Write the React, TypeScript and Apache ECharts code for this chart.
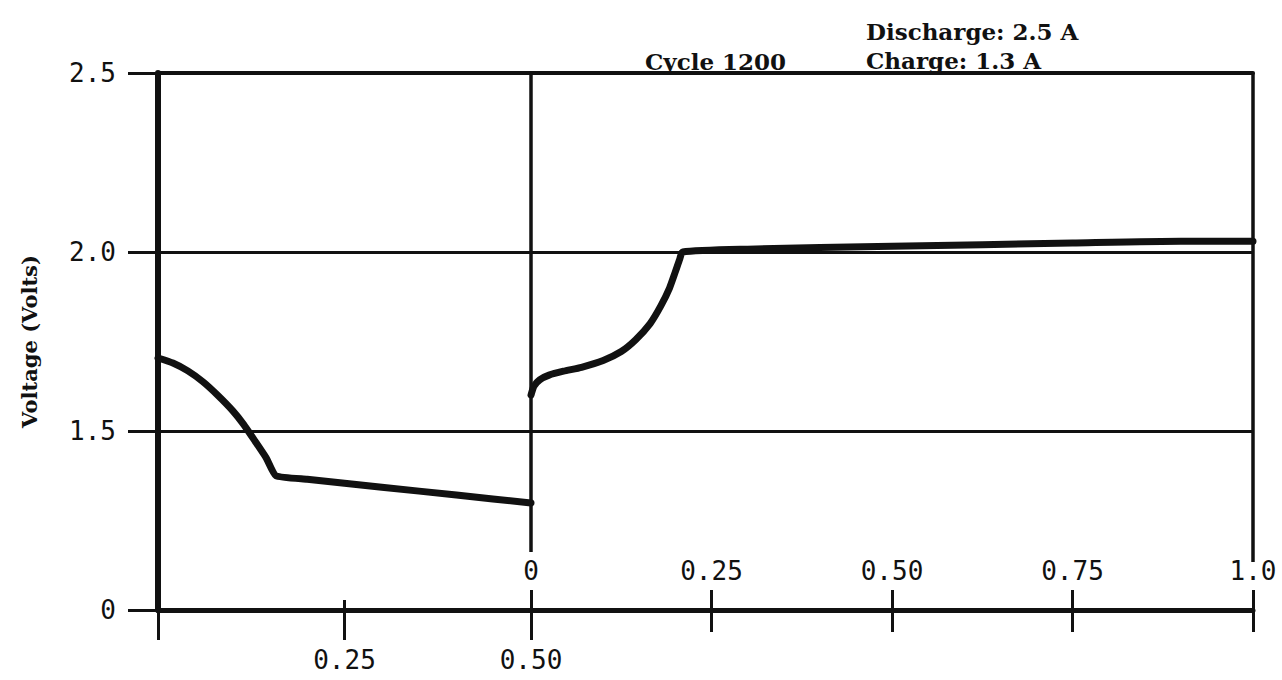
import React, { useEffect, useRef } from "react";
import * as echarts from "echarts";

// Discharge curve (time axis 0..0.5, lower scale)
const dischargeTime = [0, 0.02, 0.04, 0.06, 0.08, 0.1, 0.115, 0.13, 0.145, 0.158, 0.2, 0.3, 0.4, 0.5];
const dischargeVolts = [1.704, 1.69, 1.668, 1.638, 1.6, 1.557, 1.518, 1.472, 1.425, 1.375, 1.365, 1.343, 1.321, 1.299];

// Charge curve (time axis 0..1.0, upper scale)
const chargeTime = [0, 0.004, 0.012, 0.025, 0.045, 0.07, 0.1, 0.125, 0.145, 0.165, 0.18, 0.192, 0.2, 0.206, 0.21, 0.3, 0.5, 0.75, 0.9, 1.0];
const chargeVolts = [1.6, 1.625, 1.643, 1.656, 1.667, 1.678, 1.697, 1.722, 1.755, 1.8, 1.85, 1.9, 1.945, 1.98, 2.0, 2.008, 2.016, 2.025, 2.03, 2.03];

// Axis ticks
const voltTicks = [1.0, 1.5, 2.0, 2.5];
const voltTickLabels = ["0", "1.5", "2.0", "2.5"];
const dischargeTickLabels: Record<string, string> = { "0": "", "0.25": "0.25", "0.5": "0.50" };
const chargeTickLabels: Record<string, string> = { "0": "0", "0.25": "0.25", "0.5": "0.50", "0.75": "0.75", "1": "1.0" };

const titleTexts = ["Cycle 1200", "Discharge: 2.5 A", "Charge: 1.3 A"];
const yAxisTitle = "Voltage (Volts)";

const MONO = "'DejaVu Sans Mono', monospace";
const SERIF = "'DejaVu Serif', serif";

export default function App() {
  const ref = useRef<HTMLDivElement>(null);
  useEffect(() => {
    if (!ref.current) return;
    const chart = echarts.init(ref.current, null, { renderer: "svg" });
    const black = "#111";
    const tickLabel = { fontFamily: MONO, fontSize: 26, color: black };
    const titleStyle = { fontFamily: SERIF, fontSize: 23, fontWeight: "bold", color: black };
    const hiddenAxisParts = {
      axisLine: { show: false },
      axisTick: { show: false },
      axisLabel: { show: false },
      splitLine: { show: false },
    };
    const option: any = {
      animation: false,
      backgroundColor: "#fff",
      title: [
        { text: titleTexts[0], left: 640, top: 45, textStyle: titleStyle },
        { text: titleTexts[1], left: 861, top: 15, textStyle: titleStyle },
        { text: titleTexts[2], left: 861, top: 44, textStyle: titleStyle },
      ],
      grid: [
        { left: 158, top: 73, width: 373, height: 537 },
        { left: 531, top: 73, width: 722, height: 537 },
      ],
      xAxis: [
        {
          gridIndex: 0, type: "value", min: 0, max: 0.5, interval: 0.25, position: "bottom",
          axisLine: { show: true, onZero: false, lineStyle: { color: black, width: 5 } },
          axisTick: { show: true, inside: false, length: 30, lineStyle: { color: black, width: 3 } },
          axisLabel: {
            ...tickLabel, margin: 37, showMinLabel: true, showMaxLabel: true,
            formatter: (v: number) => dischargeTickLabels[String(v)] ?? "",
          },
          splitLine: { show: false },
        },
        {
          gridIndex: 0, type: "value", min: 0, max: 0.5, interval: 0.25, position: "bottom",
          axisLine: { show: false },
          axisTick: { show: true, inside: true, length: 10, lineStyle: { color: black, width: 3 } },
          axisLabel: { show: false },
          splitLine: { show: false },
        },
        {
          gridIndex: 0, type: "value", min: 0, max: 0.5, position: "top",
          ...hiddenAxisParts,
          axisLine: { show: true, onZero: false, lineStyle: { color: black, width: 4 } },
        },
        {
          gridIndex: 1, type: "value", min: 0, max: 1, interval: 0.25, position: "bottom",
          axisLine: { show: true, onZero: false, lineStyle: { color: black, width: 5 } },
          axisTick: { show: true, inside: false, length: 22, lineStyle: { color: black, width: 3 } },
          axisLabel: {
            ...tickLabel, inside: true, margin: 26, showMinLabel: true, showMaxLabel: true,
            formatter: (v: number) => chargeTickLabels[String(v)] ?? "",
          },
          splitLine: { show: false },
        },
        {
          gridIndex: 1, type: "value", min: 0, max: 1, interval: 0.25, position: "bottom",
          axisLine: { show: false },
          axisTick: { show: true, inside: true, length: 20, lineStyle: { color: black, width: 3 } },
          axisLabel: { show: false },
          splitLine: { show: false },
        },
        {
          gridIndex: 1, type: "value", min: 0, max: 1, position: "top",
          ...hiddenAxisParts,
          axisLine: { show: true, onZero: false, lineStyle: { color: black, width: 4 } },
        },
      ],
      yAxis: [
        {
          gridIndex: 0, type: "value", min: voltTicks[0], max: voltTicks[voltTicks.length - 1], interval: 0.5,
          name: yAxisTitle, nameLocation: "middle", nameRotate: 90, nameGap: 118,
          nameTextStyle: { fontFamily: SERIF, fontSize: 21, fontWeight: "bold", color: black },
          axisLine: { show: true, onZero: false, lineStyle: { color: black, width: 6 } },
          axisTick: { show: true, inside: false, length: 30, lineStyle: { color: black, width: 3 } },
          axisLabel: {
            ...tickLabel, margin: 42,
            formatter: (v: number) => {
              const i = voltTicks.findIndex((t) => Math.abs(t - v) < 1e-9);
              return i >= 0 ? voltTickLabels[i] : "";
            },
          },
          splitLine: { show: true, lineStyle: { color: black, width: 3 } },
        },
        {
          gridIndex: 1, type: "value", min: voltTicks[0], max: voltTicks[voltTicks.length - 1], interval: 0.5,
          axisLine: { show: false },
          axisTick: { show: false },
          axisLabel: { show: false },
          splitLine: { show: true, lineStyle: { color: black, width: 3 } },
        },
      ],
      series: [
        {
          name: "Discharge",
          type: "line",
          xAxisIndex: 0,
          yAxisIndex: 0,
          data: dischargeTime.map((t, i) => [t, dischargeVolts[i]]),
          showSymbol: false,
          smooth: 0.15,
          lineStyle: { color: black, width: 7, cap: "round", join: "round" },
          z: 5,
        },
        {
          name: "Charge",
          type: "line",
          xAxisIndex: 3,
          yAxisIndex: 1,
          data: chargeTime.map((t, i) => [t, chargeVolts[i]]),
          showSymbol: false,
          smooth: 0.2,
          lineStyle: { color: black, width: 7, cap: "round", join: "round" },
          z: 5,
          markLine: {
            silent: true,
            symbol: ["none", "none"],
            label: { show: false },
            lineStyle: { color: black, width: 3.5, type: "solid" },
            data: [
              [{ coord: [0, 1.162] }, { coord: [0, 2.5] }],
              [{ coord: [1, 1.134] }, { coord: [1, 2.5] }],
            ],
          },
        },
      ],
    };
    chart.setOption(option);
    return () => chart.dispose();
  }, []);
  return (
    <div
      ref={ref}
      style={{ position: "absolute", left: 0, top: 0, width: 1282, height: 680, background: "#fff" }}
    />
  );
}
